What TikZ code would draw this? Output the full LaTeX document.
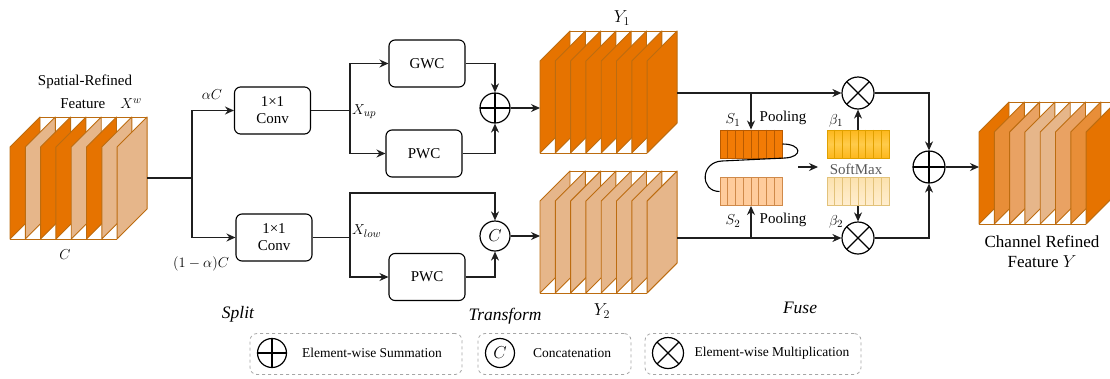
\documentclass[tikz,border=0pt]{standalone}
\usepackage{fontspec}
\setmainfont{Liberation Serif}
\usetikzlibrary{arrows.meta,calc}
\definecolor{cdark}{HTML}{E67300}
\definecolor{cmed}{HTML}{E88E38}
\definecolor{cmed2}{HTML}{E9A263}
\definecolor{clight}{HTML}{E6B68A}
\definecolor{cubeedge}{HTML}{BC6C10}
\definecolor{sonefill}{HTML}{F27B05}
\definecolor{soneedge}{HTML}{B85A00}
\definecolor{stwofill}{HTML}{FFCC9C}
\definecolor{stwoedge}{HTML}{D08A4A}
\definecolor{bonefill}{HTML}{FDB71C}
\definecolor{bonelite}{HTML}{FFCB4A}
\definecolor{boneedge}{HTML}{E0A000}
\definecolor{btwofill}{HTML}{FCE2AE}
\definecolor{btwolite}{HTML}{FFEED0}
\definecolor{btwoedge}{HTML}{E2C27A}
\newcommand{\slabcube}[3]{%
  \foreach \cc [count=\i from 0] in {#3} {%
    \pgfmathsetmacro\xa{#1+\i*15.3}%
    \pgfmathsetmacro\xb{\xa+30}%
    \filldraw[fill=\cc, draw=cubeedge, line width=0.9pt, line join=round]
      (\xa,#2+92) -- (\xa,#2) -- (\xb,#2-30) -- (\xb,#2+62) -- cycle;
  }%
  \draw[cubeedge, line width=0.9pt] (#1+30,#2-30) -- (#1+137.1,#2-30);
  \draw[cubeedge, line width=0.9pt] (#1,#2+92) -- (#1+107.1,#2+92);
}
\tikzset{
  conn/.style={line width=1.2pt, draw=black!88},
  arr/.style={conn, -{Stealth[length=9pt,width=8pt]}},
  blk/.style={draw, line width=1.1pt, rounded corners=6pt, minimum width=76pt,
    minimum height=47pt, align=center, inner sep=0,
    font=\fontsize{15}{17}\selectfont},
  opsum/.style={circle, draw, line width=1.2pt, minimum size=30pt, inner sep=0,
    path picture={\draw[line width=1.2pt]
      (path picture bounding box.north) -- (path picture bounding box.south)
      (path picture bounding box.west) -- (path picture bounding box.east);}},
  opmul/.style={circle, draw, line width=1.2pt, minimum size=32pt, inner sep=0,
    path picture={\draw[line width=1.2pt]
      ([shift={(45:20pt)}]path picture bounding box.center) -- ([shift={(225:20pt)}]path picture bounding box.center)
      ([shift={(135:20pt)}]path picture bounding box.center) -- ([shift={(-45:20pt)}]path picture bounding box.center);}},
  opcat/.style={circle, draw, line width=1.2pt, minimum size=30pt, inner sep=0,
    font=\fontsize{16}{16}\selectfont},
  bar/.style={draw, line width=1pt, minimum width=62pt, minimum height=28pt, inner sep=0},
  lbl/.style={inner sep=0, font=\fontsize{15}{17}\selectfont},
  mlbl/.style={inner sep=0, font=\fontsize{15.5}{17}\selectfont},
  stage/.style={inner sep=0, font=\fontsize{17.5}{20}\selectfont\itshape},
  legbox/.style={draw=black!35, dashed, line width=0.8pt, rounded corners=7pt,
    minimum height=41pt, inner sep=0},
  leg/.style={inner sep=0, font=\fontsize{13.5}{16}\selectfont},
}
\begin{document}
\begin{tikzpicture}[x=1pt,y=-1pt]
\useasboundingbox (0,0) rectangle (1110,378);
\clip (0,0) rectangle (1110,378);
\fill[white] (0,0) rectangle (1110,378);

% ---------- cubes ----------
\slabcube{10}{147}{cdark,clight,cdark,cdark,clight,cdark,clight,clight}
\slabcube{540}{61}{cdark,cdark,cdark,cdark,cdark,cdark,cdark,cdark}
\slabcube{540}{201}{clight,clight,clight,clight,clight,clight,clight,clight}
\slabcube{979}{132}{cdark,cmed,cmed2,clight,clight,cmed2,cmed,cdark}

% ---------- labels near cubes ----------
\node[lbl] (tsr) at (85,82) {Spatial-Refined};
\node[lbl] (tfx) at (101,104) {Feature\quad$X^{w}$};
\node[mlbl] (tc) at (65,255) {$C$};
\node[mlbl, font=\fontsize{16.5}{17}\selectfont] (ty1) at (622,18) {$Y_1$};
\node[mlbl, font=\fontsize{16.5}{17}\selectfont] (ty2) at (602,311) {$Y_2$};
\node[inner sep=0, align=center, font=\fontsize{17}{20}\selectfont] (tout) at (1042,252) {Channel Refined\\Feature $Y$};

% ---------- split / transform blocks ----------
\node[blk] (conv1) at (272.5,110.5) {1×1\\Conv};
\node[blk] (conv2) at (274,237.5) {1×1\\Conv};
\node[blk] (gwc) at (427,63.5) {GWC};
\node[blk] (pwc1) at (424,153.5) {PWC};
\node[blk] (pwc2) at (427,277) {PWC};
\node[opsum] (sum1) at (495,108) {};
\node[opcat] (cat) at (495,236) {$C$};

\node[mlbl] (tac) at (212,95) {$\alpha C$};
\node[mlbl] (tbc) at (201,264) {$(1-\alpha)C$};
\node[mlbl, anchor=west] (txup) at (352,112) {$X_{up}$};
\node[mlbl, anchor=west] (txlow) at (352,231) {$X_{low}$};

\coordinate (xo) at (147,178);
\coordinate (j0) at (192,178);
\coordinate (j1) at (350,110.5);
\coordinate (j2) at (350,237.5);
\coordinate (j2t) at (350,193);
\coordinate (y1in) at (540,108);
\coordinate (y2in) at (540,236);

\draw[conn] (xo) -- (j0);
\draw[arr] (j0) |- (conv1);
\draw[arr] (j0) |- (conv2);
\draw[conn] (conv1) -- (j1);
\draw[arr] (j1) |- (gwc);
\draw[arr] (j1) |- (pwc1);
\draw[arr] (gwc) -| (sum1);
\draw[arr] (pwc1) -| (sum1);
\draw[arr] (sum1) -- (y1in);
\draw[conn] (conv2) -- (j2);
\draw[arr] (j2) -- (j2t) -| (cat);
\draw[arr] (j2) |- (pwc2);
\draw[arr] (pwc2) -| (cat);
\draw[arr] (cat) -- (y2in);

% ---------- fuse ----------
\node[bar, fill=sonefill, draw=soneedge] (s1) at (751,144) {};
\node[bar, fill=stwofill, draw=stwoedge] (s2) at (751,191.5) {};
\node[bar, top color=bonefill, bottom color=bonefill, middle color=bonelite, draw=boneedge] (b1) at (858,144) {};
\node[bar, top color=btwofill, bottom color=btwolite, draw=btwoedge] (b2) at (858,191.5) {};
\foreach \k in {1,...,7} {
  \draw[soneedge, line width=0.8pt] ($(s1.north west)!\k/8!(s1.north east)$) -- ($(s1.south west)!\k/8!(s1.south east)$);
  \draw[stwoedge, line width=0.8pt] ($(s2.north west)!\k/8!(s2.north east)$) -- ($(s2.south west)!\k/8!(s2.south east)$);
  \draw[boneedge, line width=0.8pt] ($(b1.north west)!\k/8!(b1.north east)$) -- ($(b1.south west)!\k/8!(b1.south east)$);
  \draw[btwoedge, line width=0.8pt] ($(b2.north west)!\k/8!(b2.north east)$) -- ($(b2.south west)!\k/8!(b2.south east)$);
}
\node[opmul] (mul1) at (858,93) {};
\node[opmul] (mul2) at (858,238) {};
\node[opsum, minimum size=32pt] (sum2) at (929,167) {};

\node[mlbl] (ts1) at (733,120) {$S_1$};
\node[mlbl] (ts2) at (733,221) {$S_2$};
\node[lbl] (tp1) at (783,118) {Pooling};
\node[lbl] (tp2) at (783,220) {Pooling};
\node[mlbl] (tb1) at (836,121) {$\beta_1$};
\node[mlbl] (tb2) at (836,222) {$\beta_2$};
\node[lbl, text=black!65] (tsm) at (856,169) {SoftMax};

\coordinate (y1out) at (677,93);
\coordinate (p1) at (751,93);
\coordinate (y2out) at (677,238);
\coordinate (p2) at (751,238);
\coordinate (sa) at (798,167);
\coordinate (sb) at (818,167);
\coordinate (outin) at (979,167);

\draw[arr] (y1out) -- (mul1);
\draw[arr] (p1) -- (s1);
\draw[arr] (y2out) -- (mul2);
\draw[arr] (p2) -- (s2);
\draw[arr] (b1) -- (mul1);
\draw[arr] (b2) -- (mul2);
\draw[arr] (mul1) -| (sum2);
\draw[arr] (mul2) -| (sum2);
\draw[arr] (sum2) -- (outin);
\draw[arr, line width=1.1pt] (sa) -- (sb);
\draw[line width=1.1pt] (s1.east) .. controls (802,144) and (803,157) .. (785,158)
  -- (722,161) .. controls (700,162) and (700,191.5) .. (s2.west);

% ---------- stage labels ----------
\node[stage] (tsplit) at (238,314) {Split};
\node[stage] (ttrans) at (505,316) {Transform};
\node[stage] (tfuse) at (800,308) {Fuse};

% ---------- legend ----------
\node[legbox, minimum width=212pt] (lb1) at (356,354) {};
\node[legbox, minimum width=153pt] (lb2) at (554.5,354) {};
\node[legbox, minimum width=216pt] (lb3) at (753,354) {};
\node[opsum, minimum size=29pt] (ls) at (272,353) {};
\node[leg] (lt1) at (372,353) {Element-wise Summation};
\node[opcat, minimum size=29pt] (lc) at (500,353) {$C$};
\node[leg] (lt2) at (572,353) {Concatenation};
\node[opmul, minimum size=31pt] (lm) at (668,353) {};
\node[leg] (lt3) at (772,353) {Element-wise Multiplication};
\end{tikzpicture}
\end{document}
